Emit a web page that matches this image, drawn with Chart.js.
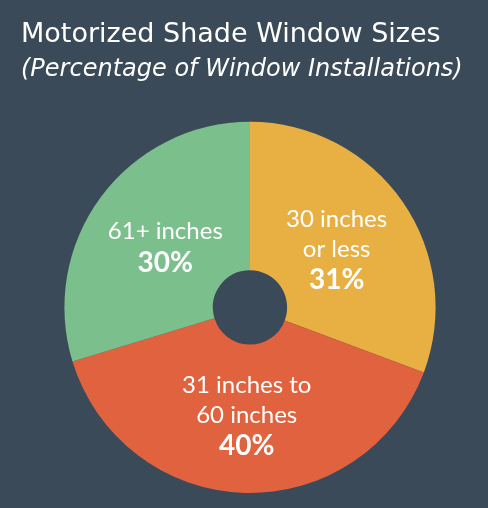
<!DOCTYPE html>
<html>
<head>
<meta charset="utf-8">
<title>Motorized Shade Window Sizes</title>
<script src="https://cdn.jsdelivr.net/npm/chart.js@4.4.1/dist/chart.umd.min.js"></script>
<style>
  html, body { margin: 0; padding: 0; background: #3a4a59; }
  #wrap { width: 488px; height: 508px; }
</style>
</head>
<body>
<div id="wrap"><canvas id="myChart"></canvas></div>
<script>
// window size groups, clockwise from the top
const sizeLabels = ['30 inches or less', '31 inches to 60 inches', '61+ inches'];
const labelLines = [['30 inches', 'or less'], ['31 inches to', '60 inches'], ['61+ inches']];
const sharePct = [31, 40, 30];
const sliceColors = ['#e8b042', '#e0623e', '#7bbf8c'];

// writes the label + percent inside each slice
const sliceText = {
    id: 'sliceText',
    afterDatasetsDraw(chart) {
        const ctx = chart.ctx;
        const meta = chart.getDatasetMeta(0);
        ctx.save();
        ctx.fillStyle = '#ffffff';
        ctx.textAlign = 'center';
        ctx.textBaseline = 'middle';
        meta.data.forEach((arc, i) => {
            const p = arc.getProps(['x', 'y', 'startAngle', 'endAngle', 'innerRadius', 'outerRadius'], true);
            const mid = (p.startAngle + p.endAngle) / 2;
            const r = p.innerRadius + (p.outerRadius - p.innerRadius) * 0.46;
            const cx = p.x + Math.cos(mid) * r;
            const cy = p.y + Math.sin(mid) * r;
            const lines = labelLines[i].concat([sharePct[i] + '%']);
            const step = 30;
            let y = cy - (lines.length - 1) * step / 2 + 2;
            lines.forEach((txt, j) => {
                const last = j === lines.length - 1;
                ctx.font = last ? '700 28px Lato' : '400 24px Lato';
                ctx.fillText(txt, cx, y + (last ? 1 : 0));
                y += step;
            });
        });
        ctx.restore();
    }
};

const ctx = document.getElementById('myChart').getContext('2d');
const myChart = new Chart(ctx, {
    type: 'doughnut',
    data: {
        labels: sizeLabels,
        datasets: [{
            data: sharePct,
            backgroundColor: sliceColors,
            borderWidth: 0
        }]
    },
    options: {
        responsive: true,
        maintainAspectRatio: false,
        animation: false,
        cutout: '20%',
        layout: { padding: { left: 21, right: 9, top: 0, bottom: 15 } },
        plugins: {
            legend: { display: false },
            tooltip: { enabled: false },
            title: {
                display: true,
                text: 'Motorized Shade Window Sizes',
                align: 'start',
                color: '#ffffff',
                font: { family: 'DejaVu Sans', size: 27, weight: 'normal', lineHeight: 1.2 },
                padding: { top: 19, bottom: 0 }
            },
            subtitle: {
                display: true,
                text: '(Percentage of Window Installations)',
                align: 'start',
                color: '#ffffff',
                font: { family: 'DejaVu Sans', size: 24, style: 'italic', weight: 'normal', lineHeight: 1.2 },
                padding: { top: 4, bottom: 37.6 }
            }
        }
    },
    plugins: [sliceText]
});
</script>
</body>
</html>
